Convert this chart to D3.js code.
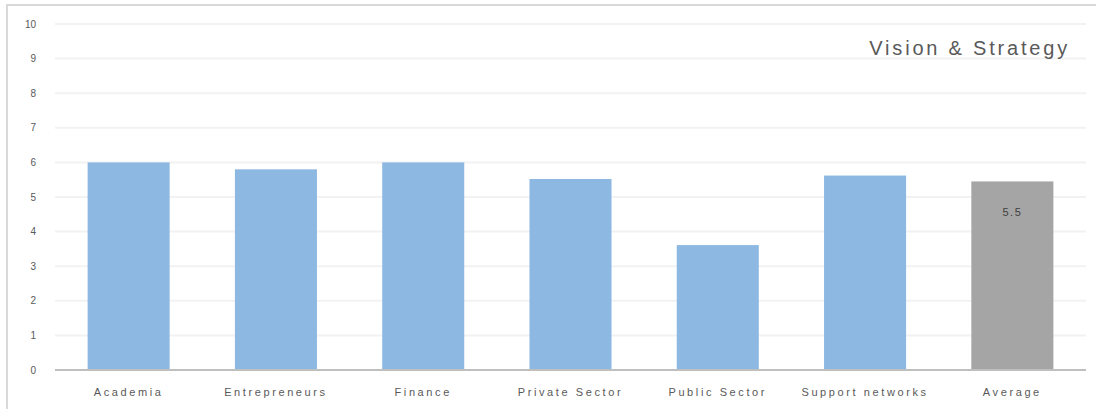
<!DOCTYPE html>
<html>
<head>
<meta charset="utf-8">
<script src="https://cdn.jsdelivr.net/npm/d3@7"></script>
<style>
  body { margin: 0; background: #fff; }
  text { font-family: "Liberation Sans", Arial, sans-serif; }
</style>
</head>
<body>
<div id="chart"></div>
<script>
const categories = ["Academia", "Entrepreneurs", "Finance", "Private Sector", "Public Sector", "Support networks", "Average"];
const scores = [6.0, 5.8, 6.0, 5.52, 3.61, 5.62, 5.45];
const yTicks = [0, 1, 2, 3, 4, 5, 6, 7, 8, 9, 10];
const chartTitle = "Vision & Strategy";

const width = 1096;
const height = 409;
const plot = { left: 55, right: 1086, top: 24, bottom: 370 };

const svg = d3.select("#chart")
  .append("svg")
  .attr("width", width)
  .attr("height", height);

// outer frame (only top and left edges show in the picture)
svg.append("rect")
  .attr("x", 7)
  .attr("y", 5)
  .attr("width", 1200)
  .attr("height", 500)
  .style("fill", "none")
  .style("stroke", "#d9d9d9")
  .style("stroke-width", 2);

const xScale = d3.scaleBand()
  .domain(categories)
  .range([plot.left, plot.right])
  .paddingInner(0.443)
  .paddingOuter(0.2215);

const yScale = d3.scaleLinear()
  .domain([0, 10])
  .range([plot.bottom, plot.top]);

// gridlines
svg.append("g")
  .selectAll("line")
  .data(yTicks.filter(d => d > 0))
  .enter()
  .append("line")
  .attr("x1", plot.left)
  .attr("x2", plot.right)
  .attr("y1", d => yScale(d))
  .attr("y2", d => yScale(d))
  .style("stroke", "#f2f2f2")
  .style("stroke-width", 2);

// y tick labels
svg.append("g")
  .selectAll("text")
  .data(yTicks)
  .enter()
  .append("text")
  .attr("x", 36)
  .attr("y", d => yScale(d))
  .attr("dy", "0.35em")
  .attr("text-anchor", "end")
  .style("font-size", "10px")
  .style("fill", "#595959")
  .text(d => d);

svg.selectAll(".bar")
  .data(categories)
  .enter()
  .append("rect")
  .attr("class", "bar")
  .attr("x", d => xScale(d))
  .attr("y", (d, i) => yScale(scores[i]))
  .attr("width", xScale.bandwidth())
  .attr("height", (d, i) => yScale(0) - yScale(scores[i]))
  .style("fill", d => d === "Average" ? "#a5a5a5" : "#8db8e2");

// baseline
svg.append("line")
  .attr("x1", plot.left)
  .attr("x2", plot.right)
  .attr("y1", yScale(0))
  .attr("y2", yScale(0))
  .style("stroke", "#bfbfbf")
  .style("stroke-width", 2);

// category labels
svg.append("g")
  .selectAll("text")
  .data(categories)
  .enter()
  .append("text")
  .attr("x", d => xScale(d) + xScale.bandwidth() / 2)
  .attr("y", 392)
  .attr("dy", "0.35em")
  .attr("text-anchor", "middle")
  .style("font-size", "11px")
  .style("letter-spacing", "2.6px")
  .style("fill", "#595959")
  .text(d => d);

// data label on the average bar
const avgIndex = categories.indexOf("Average");
svg.append("text")
  .attr("x", xScale("Average") + xScale.bandwidth() / 2)
  .attr("y", yScale(scores[avgIndex]) + 31)
  .attr("dy", "0.35em")
  .attr("text-anchor", "middle")
  .style("font-size", "11px")
  .style("letter-spacing", "1.5px")
  .style("fill", "#404040")
  .text(d3.format(".1f")(scores[avgIndex]));

svg.append("text")
  .attr("x", 1070)
  .attr("y", 48)
  .attr("dy", "0.35em")
  .attr("text-anchor", "end")
  .style("font-size", "20px")
  .style("letter-spacing", "2.8px")
  .style("fill", "#595959")
  .text(chartTitle);
</script>
</body>
</html>
